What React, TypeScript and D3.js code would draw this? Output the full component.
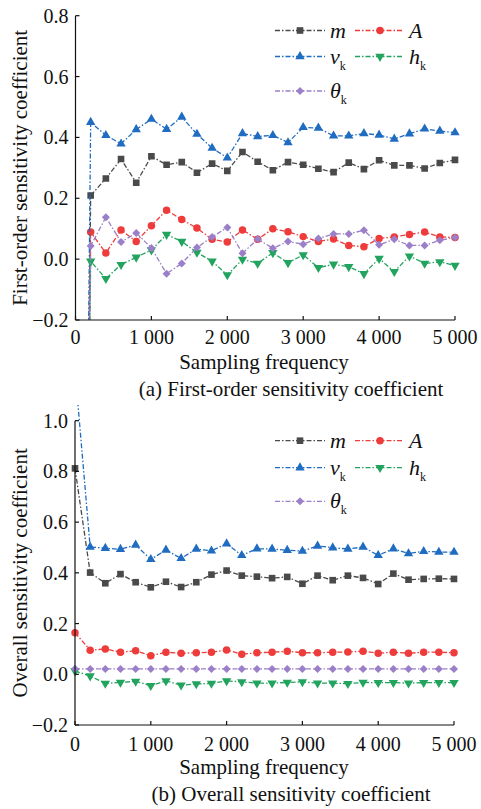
import React from "react";
import * as d3 from "d3";

const freqs = [0, 200, 400, 600, 800, 1000, 1200, 1400, 1600, 1800, 2000, 2200, 2400, 2600, 2800, 3000, 3200, 3400, 3600, 3800, 4000, 4200, 4400, 4600, 4800, 5000];

// (a) First-order sensitivity coefficient
const firstM = [-4.0, 0.209, 0.265, 0.329, 0.251, 0.338, 0.31, 0.319, 0.284, 0.314, 0.29, 0.352, 0.32, 0.292, 0.319, 0.31, 0.297, 0.286, 0.317, 0.296, 0.325, 0.308, 0.308, 0.298, 0.316, 0.326];
const firstA = [-4.2, 0.089, 0.02, 0.096, 0.058, 0.11, 0.161, 0.13, 0.102, 0.065, 0.056, 0.096, 0.065, 0.1, 0.09, 0.074, 0.058, 0.066, 0.045, 0.041, 0.068, 0.073, 0.081, 0.089, 0.073, 0.071];
const firstV = [-4.5, 0.45, 0.407, 0.379, 0.426, 0.46, 0.427, 0.467, 0.411, 0.365, 0.333, 0.413, 0.403, 0.407, 0.383, 0.433, 0.431, 0.405, 0.405, 0.413, 0.408, 0.395, 0.412, 0.428, 0.421, 0.416];
const firstH = [-4.0, -0.007, -0.064, -0.018, 0.006, 0.03, 0.081, 0.058, 0.022, -0.007, -0.052, -0.001, -0.014, 0.021, -0.012, 0.014, -0.028, -0.017, -0.025, -0.048, 0.002, -0.041, 0.01, -0.014, -0.009, -0.021];
const firstT = [-3.8, 0.043, 0.138, 0.056, 0.086, 0.037, -0.048, -0.014, 0.038, 0.073, 0.104, 0.019, 0.066, 0.036, 0.058, 0.049, 0.068, 0.083, 0.083, 0.095, 0.047, 0.065, 0.045, 0.045, 0.062, 0.071];

// (b) Overall sensitivity coefficient
const totalM = [0.812, 0.401, 0.359, 0.395, 0.363, 0.343, 0.365, 0.344, 0.363, 0.393, 0.409, 0.389, 0.385, 0.379, 0.384, 0.357, 0.389, 0.371, 0.389, 0.38, 0.356, 0.397, 0.373, 0.376, 0.377, 0.376];
const totalA = [0.164, 0.095, 0.1, 0.087, 0.093, 0.073, 0.087, 0.083, 0.085, 0.087, 0.096, 0.079, 0.085, 0.087, 0.091, 0.085, 0.085, 0.087, 0.088, 0.091, 0.083, 0.087, 0.083, 0.087, 0.087, 0.085];
const totalV = [1.2, 0.502, 0.497, 0.493, 0.51, 0.453, 0.49, 0.457, 0.494, 0.487, 0.515, 0.469, 0.495, 0.494, 0.489, 0.486, 0.506, 0.499, 0.494, 0.502, 0.469, 0.495, 0.476, 0.485, 0.482, 0.482];
const totalH = [0.013, -0.007, -0.036, -0.032, -0.028, -0.045, -0.026, -0.043, -0.038, -0.036, -0.026, -0.03, -0.035, -0.035, -0.032, -0.03, -0.035, -0.035, -0.037, -0.032, -0.033, -0.033, -0.035, -0.033, -0.033, -0.033];
const totalT = [0.022, 0.021, 0.021, 0.021, 0.021, 0.021, 0.021, 0.021, 0.021, 0.021, 0.021, 0.021, 0.021, 0.021, 0.021, 0.021, 0.021, 0.021, 0.021, 0.021, 0.021, 0.021, 0.021, 0.021, 0.021, 0.021];

const xTicks = [0, 1000, 2000, 3000, 4000, 5000];
const yTicksA = [-0.2, 0, 0.2, 0.4, 0.6, 0.8];
const yTicksB = [-0.2, 0, 0.2, 0.4, 0.6, 0.8, 1.0];

type Key = "m" | "A" | "v" | "h" | "t";
const seriesKeys: Key[] = ["m", "A", "v", "h", "t"];
const colors: Record<Key, string> = {
  m: "#4a4a4a",
  A: "#ee3b3b",
  v: "#1f6cc0",
  h: "#22a35e",
  t: "#9b7fc8",
};
const SERIF = "Liberation Serif";
const DASH = "5,2,1.5,2";

function symbolPath(k: Key) {
  switch (k) {
    case "m":
      return d3.symbol(d3.symbolSquare, 44)()!;
    case "A":
      return d3.symbol(d3.symbolCircle, 44)()!;
    case "v":
      return d3.symbol(d3.symbolTriangle, 38)()!;
    case "h":
      return d3.symbol(d3.symbolTriangle, 38)()!;
    case "t":
      return d3.symbol(d3.symbolSquare, 32)()!;
  }
}
function symbolRot(k: Key) {
  if (k === "h") return 180;
  if (k === "t") return 45;
  return 0;
}

function LegendLabel({ k, x, y }: { k: Key; x: number; y: number }) {
  const main = k === "m" ? "m" : k === "A" ? "A" : k === "v" ? "v" : k === "h" ? "h" : "θ";
  const sub = k === "v" || k === "h" || k === "t";
  return (
    <text x={x} y={y} dy="0.32em" fontFamily={SERIF} fontSize={22} fill="#111">
      <tspan fontStyle="italic">{main}</tspan>
      {sub && (
        <tspan fontSize={12} dy={6}>
          k
        </tspan>
      )}
    </text>
  );
}

interface PanelProps {
  id: string;
  data: Record<Key, number[]>;
  x0: number;
  x1: number;
  yTop: number;
  yBot: number;
  yMin: number;
  yMax: number;
  yTicks: number[];
  clipTop: number;
  tickOff: number;
  yTitle: string;
  caption: string;
  legendRows: number[];
}

function Panel(p: PanelProps) {
  const x = d3.scaleLinear().domain([0, 5000]).range([p.x0, p.x1]);
  const y = d3.scaleLinear().domain([p.yMin, p.yMax]).range([p.yBot, p.yTop]);
  const line = d3
    .line<number>()
    .x((_, i) => x(freqs[i]))
    .y((d) => y(d));
  const fmtX = (d: number) => (d === 0 ? "0" : d3.format(",")(d).replace(",", " "));
  const fmtY = (d: number) => d3.format(".1f")(d).replace("-", "−");
  const clipId = `clip-${p.id}`;
  const cy = (p.yTop + p.yBot) / 2;
  const legendCols = [
    [275, 300, 325, 330],
    [355, 380, 404, 409],
  ];
  const legendPos: [Key, number, number][] = [
    ["m", 0, 0],
    ["A", 1, 0],
    ["v", 0, 1],
    ["h", 1, 1],
    ["t", 0, 2],
  ];
  return (
    <g>
      <defs>
        <clipPath id={clipId}>
          <rect x={p.x0 - 10} y={p.clipTop} width={p.x1 - p.x0 + 20} height={p.yBot - p.clipTop} />
        </clipPath>
      </defs>
      <g clipPath={`url(#${clipId})`}>
        {seriesKeys.map((k) => (
          <g key={k}>
            <path d={line(p.data[k])!} fill="none" stroke={colors[k]} strokeWidth={1.3} strokeDasharray={DASH} />
            {p.data[k].map((v, i) => (
              <path
                key={i}
                d={symbolPath(k)}
                transform={`translate(${x(freqs[i])},${y(v)}) rotate(${symbolRot(k)})`}
                fill={colors[k]}
              />
            ))}
          </g>
        ))}
      </g>
      {/* axes */}
      <line x1={p.x0} x2={p.x1} y1={p.yBot} y2={p.yBot} stroke="#111" strokeWidth={1.2} />
      <line x1={p.x0} x2={p.x0} y1={p.yBot} y2={y(p.yMax)} stroke="#111" strokeWidth={1.2} />
      {xTicks.map((t) => (
        <g key={t}>
          <line x1={x(t)} x2={x(t)} y1={p.yBot} y2={p.yBot - 4} stroke="#111" strokeWidth={1.2} />
          <text x={x(t)} y={p.yBot + p.tickOff} dy="0.35em" textAnchor="middle" fontFamily={SERIF} fontSize={20} fill="#111">
            {fmtX(t)}
          </text>
        </g>
      ))}
      {p.yTicks.map((t) => (
        <g key={t}>
          <line x1={p.x0} x2={p.x0 + 4} y1={y(t)} y2={y(t)} stroke="#111" strokeWidth={1.2} />
          <text x={p.x0 - 7} y={y(t)} dy="0.35em" textAnchor="end" fontFamily={SERIF} fontSize={20} fill="#111">
            {fmtY(t)}
          </text>
        </g>
      ))}
      <text
        transform={`translate(20,${cy}) rotate(-90)`}
        textAnchor="middle"
        dy="0.35em"
        fontFamily={SERIF}
        fontSize={21}
        fill="#111"
      >
        {p.yTitle}
      </text>
      <text x={264} y={p.yBot + 42} dy="0.35em" textAnchor="middle" fontFamily={SERIF} fontSize={21} fill="#111">
        Sampling frequency
      </text>
      <text x={291} y={p.yBot + 69} dy="0.35em" textAnchor="middle" fontFamily={SERIF} fontSize={21} fill="#111">
        {p.caption}
      </text>
      {/* legend */}
      {legendPos.map(([k, c, r]) => {
        const [lx0, mx, lx1, tx] = legendCols[c];
        const ly = p.legendRows[r];
        return (
          <g key={k}>
            <line x1={lx0} x2={lx1} y1={ly} y2={ly} stroke={colors[k]} strokeWidth={1.3} strokeDasharray={DASH} />
            <path d={symbolPath(k)} transform={`translate(${mx},${ly}) rotate(${symbolRot(k)})`} fill={colors[k]} />
            <LegendLabel k={k} x={tx} y={ly} />
          </g>
        );
      })}
    </g>
  );
}

export default function App() {
  const first = { m: firstM, A: firstA, v: firstV, h: firstH, t: firstT };
  const total = { m: totalM, A: totalA, v: totalV, h: totalH, t: totalT };
  return (
    <svg width={481} height={809} style={{ position: "absolute", left: 0, top: 0, background: "#fff" }}>
      <rect width={481} height={809} fill="#fff" />
      <Panel
        id="a"
        data={first}
        x0={75.5}
        x1={455}
        yTop={15.7}
        yBot={320}
        yMin={-0.2}
        yMax={0.8}
        yTicks={yTicksA}
        clipTop={10}
        tickOff={17}
        yTitle="First-order sensitivity coefficient"
        caption="(a) First-order sensitivity coefficient"
        legendRows={[30.5, 56.5, 91]}
      />
      <Panel
        id="b"
        data={total}
        x0={75}
        x1={454}
        yTop={420.7}
        yBot={725}
        yMin={-0.2}
        yMax={1.0}
        yTicks={yTicksB}
        clipTop={405}
        tickOff={19}
        yTitle="Overall sensitivity coefficient"
        caption="(b) Overall sensitivity coefficient"
        legendRows={[440.7, 467.7, 501.3]}
      />
    </svg>
  );
}
